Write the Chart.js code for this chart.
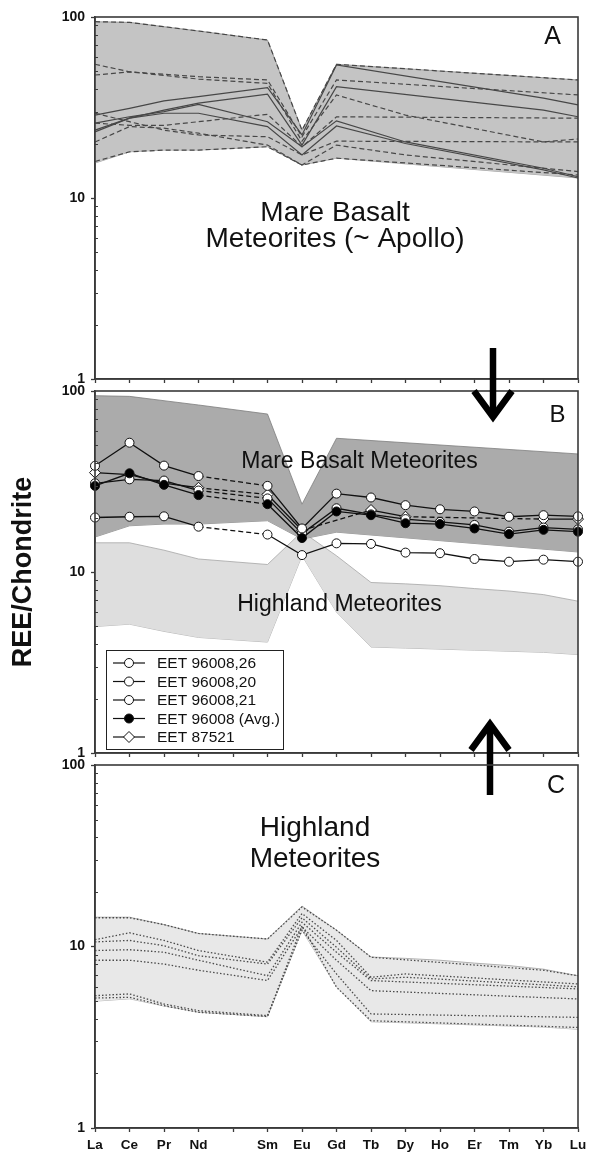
<!DOCTYPE html>
<html>
<head>
<meta charset="utf-8">
<script src="https://cdn.jsdelivr.net/npm/chart.js@4.4.1/dist/chart.umd.min.js"></script>
<style>
  html, body { margin: 0; padding: 0; background: #fff; }
  #wrap { position: relative; width: 594px; height: 1152px; }
  #wrap canvas { position: absolute; left: 0; top: 0; }
</style>
</head>
<body>
<div id="wrap">
  <canvas id="panelA" width="594" height="1152"></canvas>
  <canvas id="panelB" width="594" height="1152"></canvas>
  <canvas id="panelC" width="594" height="1152"></canvas>
</div>
<script>
// Rare earth elements, chondrite-normalised (Pm not analysed)
const elements = ['La', 'Ce', 'Pr', 'Nd', '', 'Sm', 'Eu', 'Gd', 'Tb', 'Dy', 'Ho', 'Er', 'Tm', 'Yb', 'Lu'];
const majorTicks = [1, 10, 100];
const minorTicks = [2, 3, 4, 5, 6, 7, 8, 9, 20, 30, 40, 50, 60, 70, 80, 90];

// Mare basalt meteorite field (envelope)
const mareUpper = [94.2, 93.4, 88.4, 83.7, null, 74.6, 23.7, 54.8, null, null, null, null, null, null, 44.9];
const mareLower = [15.6, 18.0, 18.4, 18.4, null, 19.2, 15.2, 16.6, null, null, null, null, null, null, 12.9];

// Individual mare basalt meteorites
const mare1  = [94.2, 93.4, 88.4, 83.7, null, 74.6, 23.7, 54.8, null, null, null, null, null, null, 44.9];
const mare2  = [28.7, 31.3, 34.4, 36.3, null, 40.7, 22.3, 54.3, null, null, null, null, null, 35.6, 32.7];
const mare3  = [54.8, 49.8, null, 46.8, null, 44.9, 21.8, 44.9, null, null, null, null, null, null, 37.1];
const mare4  = [47.8, 49.8, null, 45.4, null, 43.0, 20.6, 37.1, null, 28.7, null, null, null, 20.4, 21.2];
const mare5  = [23.2, 27.6, 30.6, 33.4, null, 37.5, 19.6, 41.2, null, null, null, null, null, 30.6, 28.1];
const mare6  = [25.9, 28.1, 30.0, 32.9, null, 26.4, 19.2, 26.7, null, 20.4, null, null, null, 14.6, 13.1];
const mare7  = [23.7, 27.6, 29.4, 29.4, null, 24.8, 17.3, 25.0, null, 20.0, null, null, null, 14.3, 12.9];
const mare8  = [29.4, 26.4, 23.7, 22.3, null, 21.8, 17.3, 20.6, null, null, null, null, null, null, 20.4];
const mare9  = [25.9, 25.2, 25.2, 26.4, null, 29.0, 19.2, 28.1, null, null, null, null, null, null, 27.6];
const mare10 = [20.4, 24.8, 24.3, 22.8, null, 19.6, 15.2, 19.6, null, 17.3, null, null, null, null, 14.0];
const mare11 = [15.9, 18.0, 18.4, 18.4, null, 19.2, 15.2, 16.6, null, null, null, null, null, null, 13.4];

// Highland meteorite field (envelope)
const highUpper = [14.5, 14.5, 13.2, 11.8, null, 11.0, 16.7, 12.3, 8.75, 8.6, 8.4, 8.1, 7.85, 7.5, 6.9];
const highLower = [5.0, 5.15, 4.7, 4.35, null, 4.1, 12.3, 6.0, 3.85, 3.8, 3.75, 3.7, 3.65, 3.6, 3.5];

// Individual highland meteorites
const high1 = [14.4, 14.4, 13.2, 11.8, null, 11.0, 16.5, 12.3, 8.73, null, null, null, null, 7.4, 6.9];
const high2 = [10.9, 11.9, 10.8, 9.5, null, 8.2, 15.2, 10.8, 6.77, 7.06, null, null, null, null, 6.22];
const high3 = [10.6, 10.8, 10.1, 8.9, null, 8.0, 14.4, 9.9, 6.63, 6.77, null, null, null, null, 6.0];
const high4 = [9.5, 9.6, 9.3, 8.4, null, 6.9, 13.6, 9.3, 6.49, null, null, null, null, null, 5.84];
const high5 = [8.4, 8.4, 8.0, 7.4, null, 6.5, 12.8, 8.4, 5.71, null, null, null, null, null, 5.14];
const high6 = [5.36, 5.48, 4.82, 4.43, null, 4.16, 12.3, 7.06, 4.25, null, null, null, null, null, 4.07];
const high7 = [5.2, 5.25, 4.72, 4.34, null, 4.12, 13.0, 5.97, 3.9, null, null, null, null, null, 3.58];

// EET samples
const sampleNames = ['EET 96008,26', 'EET 96008,20', 'EET 96008,21', 'EET 96008 (Avg.)', 'EET 87521'];
const eet26    = [38.6, 51.8, 38.7, 33.9, null, 29.9, 17.4, 27.1, 25.8, 23.4, 22.2, 21.6, 20.2, 20.6, 20.3];
const eet20    = [30.9, 32.5, 32.0, 28.2, null, 25.5, 16.3, 22.5, 20.8, 19.6, 18.9, 18.2, 16.7, 17.6, 17.2];
const eet21    = [20.0, 20.2, 20.3, 17.8, null, 16.1, 12.4, 14.4, 14.3, 12.8, 12.7, 11.8, 11.4, 11.7, 11.4];
const eetAvg   = [29.9, 35.1, 30.3, 26.6, null, 23.7, 15.4, 21.6, 20.6, 18.6, 18.4, 17.4, 16.2, 17.1, 16.7];
const eet87521 = [35.4, 34.5, 31.0, 29.2, null, 26.8, 17.0, null, 22.0, 20.2, null, null, null, 19.6, 19.6];

// ---------------------------------------------------------------------------
const FONT = "'Liberation Sans', Arial, Helvetica, sans-serif";
const INK = '#111';
const AXIS = '#3a3a3a';
const W = 1152;

function logAxis(extra) {
  return Object.assign({
    type: 'logarithmic', position: 'left', min: 1, max: 100,
    afterBuildTicks: s => { s.ticks = majorTicks.map(v => ({ value: v })); },
    afterFit: s => { s.width = 95; },
    ticks: { color: INK, font: { family: FONT, size: 14, weight: 'bold' }, padding: 6,
             callback: v => String(v) },
    grid: { drawOnChartArea: false, drawTicks: true, tickLength: 4, tickColor: AXIS, tickWidth: 1.3 },
    border: { display: true, color: AXIS, width: 1.6 }
  }, extra || {});
}

function elementAxis(showLabels) {
  return {
    type: 'category', labels: elements, offset: false,
    afterFit: s => { s.height = showLabels ? 24 : 6; },
    ticks: { display: showLabels, autoSkip: false, maxRotation: 0, minRotation: 0, color: INK,
             font: { family: FONT, size: 13.5, weight: 'bold' }, padding: 5 },
    grid: { drawOnChartArea: false, drawTicks: true, tickLength: 4, tickColor: AXIS, tickWidth: 1.3, offset: false },
    border: { display: true, color: AXIS, width: 1.6 }
  };
}

function panelOptions(padTop, padBottom, showLabels, yExtra, extraPlugins) {
  return {
    responsive: false, animation: false, devicePixelRatio: 1, events: [],
    layout: { padding: { top: padTop, bottom: padBottom, left: 0, right: 16 } },
    scales: { x: elementAxis(showLabels), y: logAxis(yExtra) },
    plugins: Object.assign({ legend: { display: false }, tooltip: { enabled: false } }, extraPlugins)
  };
}

function band(upper, lower, fillColor, edgeColor, order) {
  return [
    { data: upper, fill: '+1', backgroundColor: fillColor, borderColor: edgeColor, borderWidth: 0.8,
      pointRadius: 0, spanGaps: true, tension: 0, order: order },
    { data: lower, fill: false, borderColor: edgeColor, borderWidth: 0.8,
      pointRadius: 0, spanGaps: true, tension: 0, order: order + 1 }
  ];
}

// Box, inside minor ticks and free text of a panel
const panelFrame = {
  id: 'panelFrame',
  afterDraw(chart, args, opts) {
    const { ctx, chartArea: a } = chart;
    const y = chart.scales.y;
    ctx.save();
    ctx.strokeStyle = AXIS;
    ctx.lineWidth = 1.6;
    ctx.strokeRect(a.left, a.top, a.right - a.left, a.bottom - a.top);
    ctx.lineWidth = 1;
    minorTicks.forEach(v => {
      const py = Math.round(y.getPixelForValue(v)) + 0.5;
      ctx.beginPath(); ctx.moveTo(a.left, py); ctx.lineTo(a.left + 3, py); ctx.stroke();
    });
    ctx.fillStyle = INK;
    ctx.textBaseline = 'alphabetic';
    (opts.labels || []).forEach(t => {
      ctx.font = t.size + 'px ' + FONT;
      ctx.textAlign = 'center';
      ctx.fillText(t.text, t.x, t.y);
    });
    ctx.restore();
  }
};

// Sample key with line + marker swatches
const sampleKey = {
  id: 'sampleKey',
  afterDraw(chart, args, opts) {
    if (!opts.box) return;
    const ctx = chart.ctx;
    const b = opts.box;
    ctx.save();
    ctx.fillStyle = '#fff';
    ctx.fillRect(b.x, b.y, b.w, b.h);
    ctx.strokeStyle = '#222';
    ctx.lineWidth = 1;
    ctx.strokeRect(b.x + 0.5, b.y + 0.5, b.w, b.h);
    sampleNames.forEach((name, i) => {
      const ds = chart.data.datasets[i];
      const cy = b.y + opts.first + i * opts.step;
      const cx = b.x + 23;
      ctx.strokeStyle = '#111';
      ctx.lineWidth = 1.2;
      ctx.beginPath(); ctx.moveTo(b.x + 7, cy); ctx.lineTo(b.x + 39, cy); ctx.stroke();
      ctx.fillStyle = ds.pointBackgroundColor;
      ctx.lineWidth = 1;
      ctx.beginPath();
      if (ds.pointStyle === 'rectRot') {
        const r = ds.pointRadius;
        ctx.moveTo(cx, cy - r); ctx.lineTo(cx + r, cy); ctx.lineTo(cx, cy + r); ctx.lineTo(cx - r, cy); ctx.closePath();
      } else {
        ctx.arc(cx, cy, ds.pointRadius, 0, Math.PI * 2);
      }
      ctx.fill(); ctx.stroke();
      ctx.fillStyle = INK;
      ctx.font = '15.5px ' + FONT;
      ctx.textAlign = 'left';
      ctx.textBaseline = 'middle';
      ctx.fillText(name, b.x + 51, cy + 1);
    });
    ctx.restore();
  }
};

// Heavy arrows linking the panels
const linkArrows = {
  id: 'linkArrows',
  afterDraw(chart, args, opts) {
    const ctx = chart.ctx;
    ctx.save();
    ctx.strokeStyle = '#000';
    ctx.lineWidth = 6.5;
    ctx.lineCap = 'butt';
    ctx.lineJoin = 'miter';
    (opts.list || []).forEach(a => {
      const dir = Math.sign(a.tip - a.tail);
      ctx.beginPath(); ctx.moveTo(a.x, a.tail); ctx.lineTo(a.x, a.tip); ctx.stroke();
      ctx.beginPath();
      ctx.moveTo(a.x - a.wing, a.tip - dir * a.head);
      ctx.lineTo(a.x, a.tip);
      ctx.lineTo(a.x + a.wing, a.tip - dir * a.head);
      ctx.stroke();
    });
    ctx.restore();
  }
};

// ---------------------------------------------------------------- Panel A
const mareSeries = [mare1, mare2, mare3, mare4, mare5, mare6, mare7, mare8, mare9, mare10, mare11];
const mareSolid = new Set([1, 4, 5, 6]);
const dsA = mareSeries.map((d, i) => ({
  data: d, borderColor: '#474747', borderWidth: 1.2, borderDash: mareSolid.has(i) ? [] : [5, 3],
  pointRadius: 0, spanGaps: true, fill: false, tension: 0, order: 0
})).concat(band(mareUpper, mareLower, '#c4c4c4', '#8c8c8c', 5));

new Chart(document.getElementById('panelA'), {
  type: 'line',
  data: { labels: elements, datasets: dsA },
  options: panelOptions(17, W - 379 - 6, false, {}, {
    panelFrame: { labels: [
      { text: 'A', x: 552.5, y: 44, size: 25 },
      { text: 'Mare Basalt', x: 335, y: 221, size: 28 },
      { text: 'Meteorites (~ Apollo)', x: 335, y: 247, size: 28 }
    ] }
  }),
  plugins: [panelFrame]
});

// ---------------------------------------------------------------- Panel B
const gapDash = ctx => (ctx.p0.skip || ctx.p1.skip) ? [5, 3] : undefined;
const sampleSeries = [eet26, eet20, eet21, eetAvg, eet87521];
const sampleFill = ['#fff', '#fff', '#fff', '#000', '#fff'];
const samplePoint = ['circle', 'circle', 'circle', 'circle', 'rectRot'];
const dsB = sampleSeries.map((d, i) => ({
  data: d, borderColor: '#111', borderWidth: 1.3, spanGaps: true, fill: false, tension: 0,
  pointStyle: samplePoint[i], pointRadius: samplePoint[i] === 'rectRot' ? 5.5 : 4.5,
  pointBackgroundColor: sampleFill[i], pointBorderColor: '#111', pointBorderWidth: 1,
  segment: { borderDash: gapDash }, order: i === 3 ? 0 : 1
})).concat(band(mareUpper, mareLower, '#ababab', '#7d7d7d', 10))
   .concat(band(highUpper, highLower, '#dedede', '#a6a6a6', 20));

new Chart(document.getElementById('panelB'), {
  type: 'line',
  data: { labels: elements, datasets: dsB },
  options: panelOptions(391, W - 753 - 6, false, {
    title: { display: true, text: 'REE/Chondrite', color: INK,
             font: { family: FONT, size: 27, weight: 'bold', lineHeight: 1.2 }, padding: { top: 7, bottom: 0 } }
  }, {
    panelFrame: { labels: [
      { text: 'B', x: 557.5, y: 422, size: 24 },
      { text: 'Mare Basalt Meteorites', x: 359.5, y: 468, size: 23 },
      { text: 'Highland Meteorites', x: 339.5, y: 611, size: 23 }
    ] },
    sampleKey: { box: { x: 106, y: 650, w: 177, h: 99 }, first: 13, step: 18.5 },
    linkArrows: { list: [
      { x: 493, tail: 348, tip: 417, wing: 19, head: 26 },
      { x: 490, tail: 795, tip: 724, wing: 19, head: 26 }
    ] }
  }),
  plugins: [panelFrame, sampleKey, linkArrows]
});

// ---------------------------------------------------------------- Panel C
const highSeries = [high1, high2, high3, high4, high5, high6, high7];
const dsC = highSeries.map(d => ({
  data: d, borderColor: '#4a4a4a', borderWidth: 1.3, borderDash: [1.5, 2],
  pointRadius: 0, spanGaps: true, fill: false, tension: 0, order: 0
})).concat(band(highUpper, highLower, '#e8e8e8', '#a0a0a0', 5));

new Chart(document.getElementById('panelC'), {
  type: 'line',
  data: { labels: elements, datasets: dsC },
  options: panelOptions(765, W - 1128 - 24, true, {}, {
    panelFrame: { labels: [
      { text: 'C', x: 556, y: 793, size: 25 },
      { text: 'Highland', x: 315, y: 836, size: 28 },
      { text: 'Meteorites', x: 315, y: 867, size: 28 }
    ] }
  }),
  plugins: [panelFrame]
});
</script>
</body>
</html>
